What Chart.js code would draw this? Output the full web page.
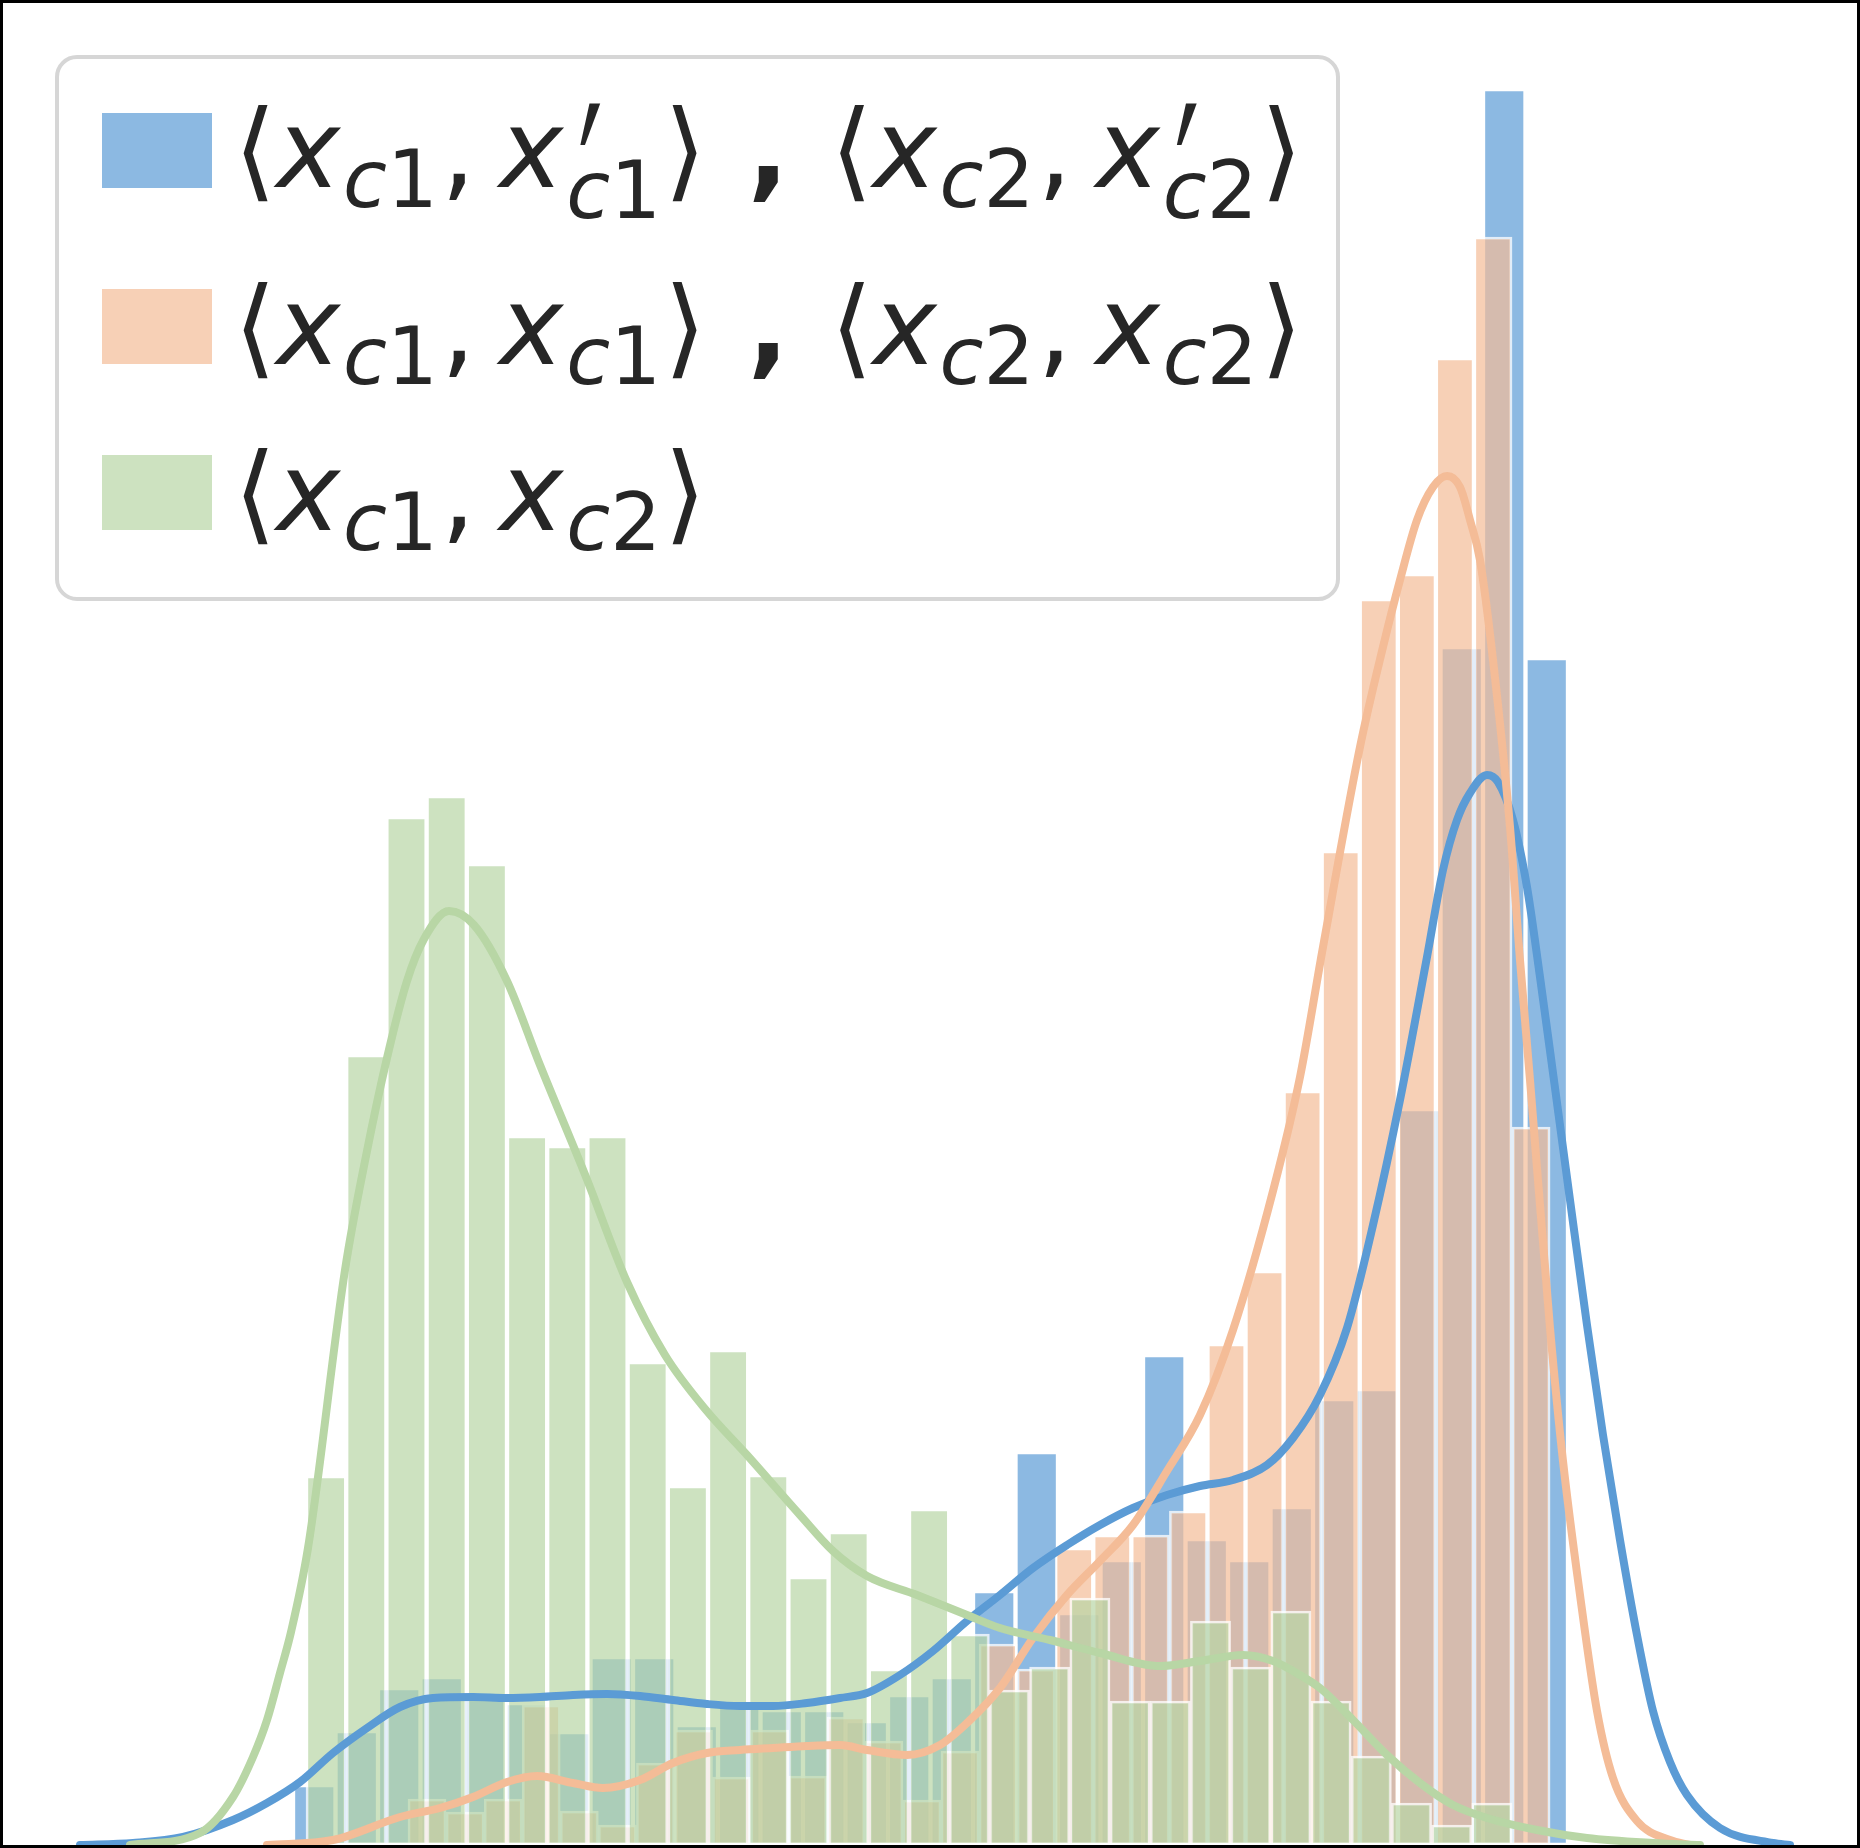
<!DOCTYPE html>
<html lang="en">

<head>
    <meta charset="UTF-8">
    <title>相似度分布直方圖</title>
    <script src="https://cdn.jsdelivr.net/npm/chart.js"></script>
    <style>
        html, body { margin: 0; padding: 0; background: #fff; }
        #wrap { position: relative; width: 1860px; height: 1848px; }
        #myChart { display: block; }
        /* 圖例用 html 做，才能寫下標和撇號 */
        #legend {
            position: absolute; left: 55px; top: 55px; width: 1285px; height: 546px;
            box-sizing: border-box; border: 4px solid #d6d6d6; border-radius: 22px;
            background: rgba(255, 255, 255, 0.8);
        }
        #legend .sw { position: absolute; left: 43px; width: 110px; height: 75px; }
        #legend .lab {
            position: absolute; left: 175px; font-family: "DejaVu Sans"; font-size: 108px;
            line-height: 108px; white-space: nowrap; color: #262626;
        }
        #legend i { font-style: italic; }
        #legend .cm { margin-right: 24px; }
        #legend .sb { font-size: 80px; position: relative; top: 20px; margin-left: 3px; margin-right: 3px; }
        #legend .ss { font-size: 80px; position: relative; top: 31px; margin-left: 3px; margin-right: 3px; }
        #legend .pr {
            position: absolute; left: 12px; top: -35px; font-size: 108px; line-height: 108px; font-style: normal;
            transform: scale(1, 2.1); transform-origin: 50% 28px;
        }
        #legend b { font-weight: bold; margin: 0 4px; }
    </style>
</head>

<body>
    <div id="wrap">
        <canvas id="myChart" width="1860" height="1848"></canvas>
        <div id="legend"></div>
    </div>
    <script>
        // x 軸單位 = 畫面寬度/100，y 軸單位 = 計數(高度/20)
        // 直方圖：起點、組距、每組的值
        const blueStart = 2.93, blueWidth = 0.425;
        const blueCounts = [3.0, 5.7, 7.85, 8.4, 7.4, 7.1, 5.65, 9.4, 9.4, 6.0, 7.25, 6.75, 6.75, 6.2, 7.5,
            8.4, 12.7, 19.65, 11.6, 14.25, 24.5, 15.3, 14.25, 16.9, 22.3, 22.8, 36.8, 59.9, 87.8, 59.35];

        const orangeStart = 4.08, orangeWidth = 0.3807;
        const orangeCounts = [2.3, 1.65, 2.3, 7.0, 1.7, 1.0, 4.1, 5.75, 3.4, 5.75, 3.45, 6.4, 5.2, 2.25, 4.7,
            10.05, 8.8, 14.85, 15.5, 15.5, 16.7, 25.05, 28.7, 37.7, 49.7, 62.3, 63.55, 74.35, 80.4, 35.9];

        const greenStart = 3.06, greenWidth = 0.402;
        const greenCounts = [18.45, 39.5, 51.4, 52.45, 49.05, 35.45, 34.95, 35.45, 24.15, 17.95, 24.75, 18.5,
            13.4, 15.65, 8.8, 16.8, 10.55, 7.75, 8.9, 12.35, 7.2, 7.2, 11.2, 8.9, 11.7, 7.2, 4.45, 2.1, 1.0, 2.1];

        // KDE 曲線 (從圖上讀的點)
        const blueKdeX = [0.80, 1.33, 1.83, 2.33, 2.67, 3.00, 3.33, 3.67, 4.00, 4.33, 4.73, 5.07, 5.40, 5.73, 6.07,
            6.40, 6.73, 7.07, 7.40, 7.73, 8.07, 8.40, 8.67, 9.00, 9.33, 9.67, 10.00, 10.33, 10.67, 11.00, 11.33,
            11.67, 12.00, 12.33, 12.67, 12.93, 13.20, 13.47, 13.73, 14.00, 14.27, 14.43, 14.57, 14.70, 14.87, 14.98,
            15.13, 15.27, 15.40, 15.53, 15.70, 15.87, 16.03, 16.20, 16.37, 16.53, 16.70, 16.87, 17.20, 17.73, 17.90];
        const blueKdeY = [0, 0.1, 0.4, 1.25, 2.1, 3.15, 4.6, 5.85, 6.9, 7.35, 7.4, 7.35, 7.4, 7.5, 7.55,
            7.45, 7.25, 7.05, 6.95, 6.95, 7.1, 7.35, 7.6, 8.5, 9.7, 11.2, 12.5, 13.85, 15.0, 16.0, 16.85,
            17.5, 17.95, 18.25, 19.0, 20.35, 22.5, 25.85, 31.0, 37.25, 44.4, 48.75, 51.25, 52.6, 53.5, 53.15,
            51.25, 47.9, 43.4, 38.6, 32.25, 26.0, 20.5, 15.25, 10.5, 6.7, 4.15, 2.5, 0.85, 0.1, 0];

        const orangeKdeX = [2.67, 3.33, 4.00, 4.40, 4.73, 5.07, 5.37, 5.73, 6.03, 6.40, 6.73, 7.07, 7.40, 7.73,
            8.07, 8.40, 8.67, 9.07, 9.40, 9.67, 10.00, 10.33, 10.67, 11.00, 11.33, 11.67, 12.00, 12.33, 12.73,
            13.00, 13.23, 13.60, 13.83, 14.00, 14.17, 14.33, 14.47, 14.60, 14.70, 14.80, 14.93, 15.10, 15.20,
            15.30, 15.50, 15.63, 15.80, 15.97, 16.13, 16.37, 16.70, 16.90];
        const orangeKdeY = [0, 0.25, 1.4, 1.85, 2.4, 3.15, 3.45, 3.1, 2.85, 3.25, 4.1, 4.6, 4.75, 4.85,
            4.95, 5.0, 4.75, 4.5, 5.0, 6.1, 7.85, 10.35, 12.5, 14.2, 16.0, 18.7, 21.5, 25.75, 32.7,
            38.4, 44.9, 54.9, 59.9, 63.25, 66.25, 67.9, 68.45, 67.9, 66.25, 64.25, 59.25, 50.9, 44.25,
            38.25, 25.85, 19.2, 12.5, 6.7, 3.35, 1.2, 0.25, 0];

        const greenKdeX = [1.30, 2.00, 2.33, 2.53, 2.67, 2.80, 2.91, 3.08, 3.45, 3.66, 3.87, 4.07, 4.24, 4.49,
            4.74, 5.07, 5.40, 5.86, 6.27, 6.65, 7.06, 7.47, 8.00, 8.33, 8.67, 9.17, 9.67, 10.00, 10.50, 11.00,
            11.60, 12.00, 12.43, 12.73, 13.00, 13.20, 13.53, 13.87, 14.20, 14.53, 14.87, 15.37, 15.87, 16.53, 17.00];
        const greenKdeY = [0, 0.6, 2.4, 4.4, 6.25, 8.6, 10.65, 14.85, 28.75, 34.45, 39.35, 43.2, 45.3, 46.7,
            46.0, 43.2, 39.0, 33.4, 28.15, 24.5, 21.75, 19.5, 16.5, 14.7, 13.45, 12.5, 11.5, 10.85, 10.25, 9.6,
            8.95, 9.2, 9.5, 9.2, 8.5, 7.85, 6.25, 4.5, 3.1, 2.0, 1.35, 0.75, 0.35, 0.1, 0];

        // 圖例文字
        const labelBlue = '⟨<i>x</i><span class="sb"><i>c</i>1</span><span class="cm">,</span><i>x</i><span class="ss"><span class="pr">′</span><i>c</i>1</span>⟩<b> , </b>⟨<i>x</i><span class="sb"><i>c</i>2</span><span class="cm">,</span><i>x</i><span class="ss"><span class="pr">′</span><i>c</i>2</span>⟩';
        const labelOrange = '⟨<i>x</i><span class="sb"><i>c</i>1</span><span class="cm">,</span><i>x</i><span class="sb"><i>c</i>1</span>⟩<b> , </b>⟨<i>x</i><span class="sb"><i>c</i>2</span><span class="cm">,</span><i>x</i><span class="sb"><i>c</i>2</span>⟩';
        const labelGreen = '⟨<i>x</i><span class="sb"><i>c</i>1</span><span class="cm">,</span><i>x</i><span class="sb"><i>c</i>2</span>⟩';

        const canvasW = 1860;
        const xMax = 18.6, yMax = 92.25;
        const pxPerUnit = canvasW / xMax;   // 圖區佔滿整個寬度

        // 把組距轉成長條的中心點
        function toBars(counts, start, width) {
            return counts.map(function (c, i) {
                return { x: start + width * (i + 0.5), y: c };
            });
        }
        function toPoints(xs, ys) {
            return xs.map(function (x, i) {
                return { x: x, y: ys[i] };
            });
        }

        function barSet(label, html, counts, start, width, color, axis, order) {
            return {
                type: 'bar',
                label: label,
                legendHtml: html,
                data: toBars(counts, start, width),
                xAxisID: axis,
                backgroundColor: color,
                borderColor: 'rgba(255,255,255,0.75)',
                borderWidth: 2.5,
                borderSkipped: false,
                grouped: false,              // 三組長條互相重疊，不要並排
                barThickness: width * pxPerUnit,
                order: order
            };
        }
        function kdeSet(label, xs, ys, color, order) {
            return {
                type: 'line',
                label: label,
                data: toPoints(xs, ys),
                xAxisID: 'x',
                borderColor: color,
                borderWidth: 8,
                pointRadius: 0,
                fill: false,
                cubicInterpolationMode: 'monotone',
                borderJoinStyle: 'round',
                borderCapStyle: 'round',
                order: order
            };
        }

        function hiddenX() {
            return { type: 'linear', display: false, offset: false, min: 0, max: xMax, ticks: { stepSize: 3 } };
        }

        // 外框
        const framePlugin = {
            id: 'frame',
            afterDraw: function (chart) {
                const ctx = chart.ctx;
                ctx.save();
                ctx.strokeStyle = '#000';
                ctx.lineWidth = 6;
                ctx.strokeRect(0, 0, chart.width, chart.height);
                ctx.restore();
            }
        };

        // html 圖例
        const legendTops = [[54, 37], [230, 214], [396, 380]];
        const htmlLegend = {
            id: 'htmlLegend',
            afterUpdate: function (chart) {
                const box = document.getElementById('legend');
                box.innerHTML = '';
                let row = 0;
                chart.data.datasets.forEach(function (ds) {
                    if (!ds.legendHtml) return;
                    const sw = document.createElement('div');
                    sw.className = 'sw';
                    sw.style.top = legendTops[row][0] + 'px';
                    sw.style.background = ds.backgroundColor;
                    box.appendChild(sw);
                    const lab = document.createElement('div');
                    lab.className = 'lab';
                    lab.style.top = legendTops[row][1] + 'px';
                    lab.innerHTML = ds.legendHtml;
                    box.appendChild(lab);
                    row++;
                });
            }
        };

        const ctx = document.getElementById('myChart');
        const chart = new Chart(ctx, {
            type: 'bar',
            data: {
                datasets: [
                    barSet('<x_c1,x\'_c1> , <x_c2,x\'_c2>', labelBlue, blueCounts, blueStart, blueWidth, 'rgba(91,155,213,0.7)', 'xb', 5),
                    barSet('<x_c1,x_c1> , <x_c2,x_c2>', labelOrange, orangeCounts, orangeStart, orangeWidth, 'rgba(244,188,151,0.7)', 'xo', 4),
                    barSet('<x_c1,x_c2>', labelGreen, greenCounts, greenStart, greenWidth, 'rgba(184,214,165,0.7)', 'xg', 3),
                    kdeSet('blue kde', blueKdeX, blueKdeY, '#5b9bd5', 2),
                    kdeSet('orange kde', orangeKdeX, orangeKdeY, '#f4bc97', 1),
                    kdeSet('green kde', greenKdeX, greenKdeY, '#b8d6a5', 0)
                ]
            },
            options: {
                responsive: false,
                devicePixelRatio: 1,
                animation: false,
                layout: { padding: { left: 0, right: 0, top: 0, bottom: 3 } },
                scales: {
                    x: hiddenX(),
                    xb: hiddenX(),
                    xo: hiddenX(),
                    xg: hiddenX(),
                    y: { type: 'linear', display: false, min: 0, max: yMax }
                },
                plugins: {
                    legend: { display: false },
                    tooltip: { enabled: false }
                }
            },
            plugins: [framePlugin, htmlLegend]
        });
    </script>
</body>

</html>
